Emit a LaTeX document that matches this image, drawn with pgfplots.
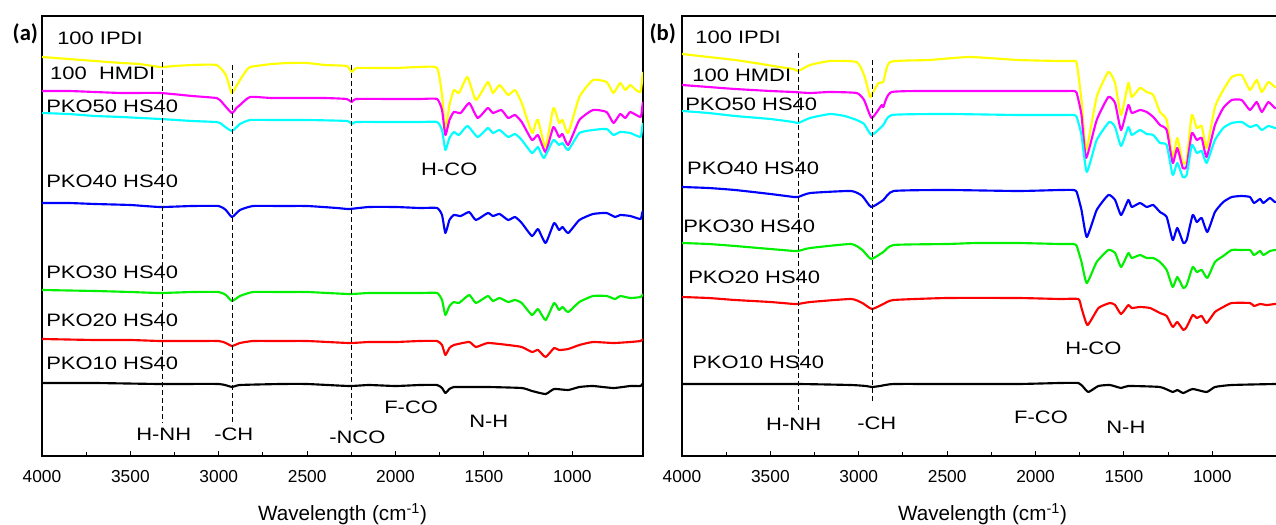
\documentclass[border=0pt]{standalone}
\usepackage{fontspec}
\setmainfont{Liberation Sans}
\newfontfamily\labfont[FakeStretch=1.22]{Liberation Sans}
\newfontfamily\panelfont{Carlito}
\usepackage{pgfplots}
\pgfplotsset{compat=1.18}
\definecolor{cyel}{RGB}{255,255,0}
\definecolor{cmag}{RGB}{255,0,255}
\definecolor{ccya}{RGB}{0,255,255}
\definecolor{cblu}{RGB}{0,0,255}
\definecolor{cgre}{RGB}{0,240,0}
\definecolor{cred}{RGB}{255,0,0}
\tikzset{
  lab/.style={anchor=west, inner sep=0pt, font=\labfont\fontsize{13.5}{13.5}\selectfont},
  dl/.style={black, line width=0.7pt, dash pattern=on 3.75pt off 2.25pt, sharp plot},
}
\pgfplotsset{ftir/.style={
  scale only axis, width=450.75pt, height=330pt,
  x dir=reverse, xmin=600, xmax=4000,
  y dir=reverse, ymin=16, ymax=456,
  xtick={1000,1500,2000,2500,3000,3500,4000}, minor x tick num=1,
  xtick pos=left, ytick=\empty, tick align=inside,
  major tick length=4pt, minor tick length=3pt,
  axis line style={line width=1.1pt}, every tick/.style={line width=0.8pt,black},
  /pgf/number format/assume math mode=true, /pgf/number format/1000 sep={},
  xticklabel style={font=\fontsize{13}{13}\selectfont, anchor=base, yshift=-19.5pt, inner sep=0pt},
  xlabel={Wavelength (cm\textsuperscript{-1})},
  every axis x label/.style={at={(axis description cs:0.5,0)}, anchor=base, yshift=-48pt, font=\fontsize{15.5}{15.5}\selectfont},
  every axis plot/.append style={line width=1.6pt, line join=round, smooth, tension=0.3},
}}
\begin{document}
\begin{tikzpicture}
\useasboundingbox (0,0) rectangle (957pt,393pt);
\clip (0,0) rectangle (957pt,393pt);
% ---------------- panel (a)
\begin{axis}[ftir, at={(31.5pt,51pt)}, anchor=south west]
\addplot[cyel] coordinates {(4000,57) (3850,59) (3700,61) (3550,63) (3450,64) (3332,67) (3250,66) (3150,65) (3012,65) (2960,75) (2927,93) (2900,86) (2880,80) (2850,72) (2823,67) (2700,64) (2600,63) (2500,63) (2400,65) (2276,66) (2248,72) (2220,68) (2100,68) (2000,68) (1862,67) (1765,68) (1737,95) (1718,130) (1695,105) (1670,90) (1641,93) (1593,77) (1545,100) (1478,82) (1449,93) (1411,85) (1363,95) (1324,90) (1286,103) (1228,133) (1210,125) (1194,120) (1151,147) (1107,108) (1075,123) (1055,120) (1023,133) (960,97) (883,80) (806,82) (767,93) (729,83) (700,90) (672,85) (640,90) (614,92) (605,80) (600,72)};
\addplot[cmag] coordinates {(4000,91) (3850,91) (3700,92) (3550,93) (3332,93) (3150,96) (3012,98) (2993,100) (2927,113) (2900,108) (2880,105) (2823,97) (2700,98) (2500,98) (2400,98) (2276,99) (2248,102) (2220,99) (2000,99) (1862,99) (1765,99) (1737,110) (1718,135) (1695,120) (1670,112) (1631,113) (1583,103) (1535,118) (1478,108) (1449,113) (1401,110) (1363,118) (1324,115) (1286,122) (1228,140) (1194,135) (1151,152) (1107,127) (1075,137) (1055,134) (1023,145) (960,120) (883,110) (806,112) (767,123) (729,114) (700,118) (672,112) (614,117) (605,108) (600,102)};
\addplot[ccya] coordinates {(4000,113) (3850,114) (3700,116) (3550,117) (3332,119) (3150,121) (3012,122) (2993,123) (2927,131) (2880,124) (2823,120) (2700,120) (2500,120) (2276,121) (2248,124) (2220,122) (2000,122) (1862,122) (1765,122) (1737,130) (1718,150) (1695,138) (1670,132) (1641,135) (1593,126) (1535,137) (1478,128) (1449,133) (1411,130) (1363,137) (1324,134) (1286,140) (1228,153) (1194,147) (1161,158) (1107,140) (1075,145) (1055,143) (1023,150) (960,133) (883,130) (806,129) (767,135) (729,132) (672,133) (614,137) (605,128) (600,123)};
\addplot[cblu] coordinates {(4000,203) (3850,203) (3700,204) (3500,205) (3332,207) (3150,206) (3000,206) (2960,210) (2925,217) (2880,210) (2806,206) (2650,206) (2500,206) (2331,208) (2263,209) (2150,207) (2000,207) (1862,208) (1765,208) (1737,215) (1718,233) (1695,220) (1670,215) (1631,216) (1583,212) (1545,220) (1478,213) (1449,216) (1411,214) (1363,220) (1324,217) (1286,223) (1228,236) (1194,229) (1151,243) (1103,223) (1075,230) (1055,227) (1023,233) (960,220) (883,214) (806,213) (758,217) (729,215) (672,216) (614,219) (605,213) (600,211)};
\addplot[cgre] coordinates {(4000,290) (3700,291) (3500,292) (3332,293) (3150,292) (3000,292) (2960,295) (2925,301) (2880,296) (2806,292) (2650,292) (2500,292) (2263,294) (2150,293) (2000,293) (1862,293) (1765,293) (1737,300) (1718,315) (1695,306) (1670,302) (1641,303) (1583,295) (1545,303) (1478,296) (1449,301) (1411,298) (1363,302) (1324,300) (1286,303) (1228,315) (1194,309) (1151,320) (1103,303) (1075,310) (1055,307) (1023,312) (960,302) (883,296) (806,296) (758,299) (729,296) (672,298) (614,297) (600,294)};
\addplot[cred] coordinates {(4000,339) (3700,340) (3500,340) (3332,341) (3150,341) (3000,341) (2960,343) (2925,346) (2880,343) (2806,341) (2650,341) (2500,341) (2263,343) (2150,342) (2000,342) (1862,341) (1765,341) (1737,345) (1718,355) (1695,348) (1670,345) (1583,342) (1545,347) (1478,343) (1363,345) (1286,347) (1228,352) (1194,350) (1151,357) (1103,348) (1075,350) (1023,349) (960,345) (883,342) (767,343) (672,342) (614,341) (600,339)};
\addplot[black] coordinates {(4000,383) (3700,383) (3332,384) (3000,384) (2925,387) (2880,385) (2650,384) (2500,384) (2263,386) (2150,385) (2000,386) (1862,385) (1765,385) (1737,388) (1718,393) (1695,389) (1670,387) (1583,387) (1478,387) (1286,388) (1228,391) (1151,394) (1103,389) (1023,390) (960,387) (883,386) (767,388) (672,386) (614,386) (600,383)};
\addplot[dl] coordinates {(3320,62) (3320,423)};
\addplot[dl] coordinates {(2925,65) (2925,425)};
\addplot[dl] coordinates {(2247,65) (2247,420)};
\node[lab] at (axis cs:3915,38) {100 IPDI};
\node[lab] at (axis cs:3955,73) {100\ \ HMDI};
\node[lab] at (axis cs:3977,106) {PKO50 HS40};
\node[lab] at (axis cs:3977,181) {PKO40 HS40};
\node[lab] at (axis cs:3977,272) {PKO30 HS40};
\node[lab] at (axis cs:3977,320) {PKO20 HS40};
\node[lab] at (axis cs:3977,363) {PKO10 HS40};
\node[lab] at (axis cs:1856,169) {H-CO};
\node[lab] at (axis cs:2065,407) {F-CO};
\node[lab] at (axis cs:1584,421) {N-H};
\node[lab] at (axis cs:3468,434) {H-NH};
\node[lab] at (axis cs:3027,434) {-CH};
\node[lab] at (axis cs:2376,437) {-NCO};
\end{axis}
% ---------------- panel (b)
\begin{axis}[ftir, at={(511.5pt,51pt)}, anchor=south west]
\addplot[cyel] coordinates {(4000,54) (3850,57) (3700,60) (3550,64) (3450,67) (3370,69) (3342,71) (3276,65) (3163,61) (3012,62) (2970,75) (2936,97) (2927,95) (2889,83) (2861,82) (2823,62) (2600,60) (2371,57) (2100,60) (1861,61) (1786,61) (1767,63) (1740,100) (1714,150) (1654,97) (1588,72) (1550,83) (1516,115) (1475,83) (1456,97) (1409,88) (1371,92) (1334,95) (1296,112) (1258,120) (1224,158) (1198,138) (1167,163) (1145,160) (1116,115) (1088,128) (1060,126) (1032,148) (985,107) (938,90) (890,77) (834,75) (787,90) (749,80) (720,92) (683,82) (645,87) (600,88)};
\addplot[cmag] coordinates {(4000,85) (3850,87) (3700,89) (3500,91) (3370,92) (3276,93) (3163,92) (3012,93) (2970,100) (2927,118) (2870,105) (2861,107) (2813,92) (2500,91) (2100,91) (1861,91) (1786,91) (1767,93) (1740,115) (1714,158) (1654,120) (1588,97) (1550,103) (1516,130) (1475,105) (1456,113) (1409,110) (1371,112) (1334,117) (1296,125) (1258,130) (1224,163) (1198,148) (1167,168) (1145,166) (1116,133) (1088,140) (1060,138) (1032,157) (985,125) (938,108) (890,100) (834,100) (787,110) (749,102) (720,112) (683,102) (645,108) (600,108)};
\addplot[ccya] coordinates {(4000,111) (3850,113) (3700,116) (3500,119) (3370,122) (3342,123) (3276,118) (3163,114) (3080,116) (3012,120) (2970,124) (2927,135) (2861,125) (2813,115) (2500,114) (2100,115) (1861,115) (1786,115) (1767,117) (1740,135) (1710,172) (1654,140) (1583,122) (1550,127) (1516,146) (1475,127) (1456,135) (1409,130) (1371,134) (1334,135) (1296,143) (1258,145) (1224,175) (1198,163) (1167,177) (1145,175) (1116,145) (1088,153) (1060,151) (1032,163) (985,140) (938,128) (890,123) (834,122) (787,127) (749,125) (720,130) (683,126) (645,128) (600,128)};
\addplot[cblu] coordinates {(4000,187) (3850,188) (3700,190) (3500,194) (3366,197) (3343,197) (3274,193) (3044,191) (2980,196) (2930,207) (2861,200) (2803,191) (2500,190) (2100,191) (1861,190) (1786,190) (1767,192) (1740,210) (1710,237) (1654,210) (1588,195) (1550,200) (1516,215) (1475,200) (1456,207) (1409,203) (1371,207) (1334,205) (1296,212) (1258,217) (1224,240) (1198,228) (1164,243) (1145,240) (1111,215) (1088,222) (1060,218) (1028,232) (985,212) (938,202) (890,197) (834,196) (787,197) (764,203) (730,199) (711,203) (674,198) (645,202) (600,200)};
\addplot[cgre] coordinates {(4000,243) (3850,244) (3700,246) (3500,249) (3366,251) (3343,251) (3274,248) (3044,244) (2980,250) (2930,259) (2861,252) (2803,245) (2500,244) (2333,243) (2100,243) (1861,244) (1786,244) (1767,246) (1740,262) (1710,283) (1654,262) (1588,250) (1550,253) (1516,267) (1475,253) (1456,258) (1409,255) (1371,258) (1334,258) (1296,262) (1258,270) (1224,287) (1198,277) (1164,288) (1145,285) (1111,267) (1088,272) (1060,270) (1028,278) (985,262) (938,256) (890,250) (834,250) (787,250) (764,255) (730,251) (711,255) (674,251) (645,250) (600,250)};
\addplot[cred] coordinates {(4000,297) (3850,298) (3700,300) (3500,302) (3366,304) (3343,304) (3274,302) (3044,299) (2980,303) (2925,309) (2861,304) (2803,300) (2500,298) (2100,298) (1861,299) (1758,299) (1740,308) (1706,325) (1644,308) (1579,303) (1550,305) (1516,314) (1475,305) (1456,308) (1409,307) (1352,308) (1296,313) (1258,316) (1224,327) (1198,322) (1164,330) (1145,327) (1111,315) (1088,318) (1060,316) (1032,323) (985,312) (938,307) (890,303) (787,303) (764,306) (730,304) (692,305) (645,304) (600,304)};
\addplot[black] coordinates {(4000,384) (3700,384) (3343,384) (3044,385) (2960,386) (2925,387) (2880,386) (2803,384) (2500,384) (2100,384) (1861,383) (1758,383) (1730,387) (1701,392) (1644,386) (1579,385) (1516,388) (1475,386) (1296,387) (1224,392) (1198,390) (1164,393) (1111,389) (1032,392) (985,387) (890,385) (645,384) (600,384)};
\addplot[dl] coordinates {(3342,53) (3342,413)};
\addplot[dl] coordinates {(2920,60) (2920,402)};
\node[lab] at (axis cs:3926,37) {100 IPDI};
\node[lab] at (axis cs:3943,75) {100 HMDI};
\node[lab] at (axis cs:3983,104) {PKO50 HS40};
\node[lab] at (axis cs:3972,168) {PKO40 HS40};
\node[lab] at (axis cs:3994,226) {PKO30 HS40};
\node[lab] at (axis cs:3966,277) {PKO20 HS40};
\node[lab] at (axis cs:3943,362) {PKO10 HS40};
\node[lab] at (axis cs:1833,348) {H-CO};
\node[lab] at (axis cs:2122,417) {F-CO};
\node[lab] at (axis cs:1601,427) {N-H};
\node[lab] at (axis cs:3525,424) {H-NH};
\node[lab] at (axis cs:3010,423) {-CH};
\end{axis}
\node[anchor=center, inner sep=0pt, font=\panelfont\bfseries\fontsize{17}{17}\selectfont] at (19pt,368pt) {(a)};
\node[anchor=center, inner sep=0pt, font=\panelfont\bfseries\fontsize{17}{17}\selectfont] at (497pt,368pt) {(b)};
\end{tikzpicture}
\end{document}
